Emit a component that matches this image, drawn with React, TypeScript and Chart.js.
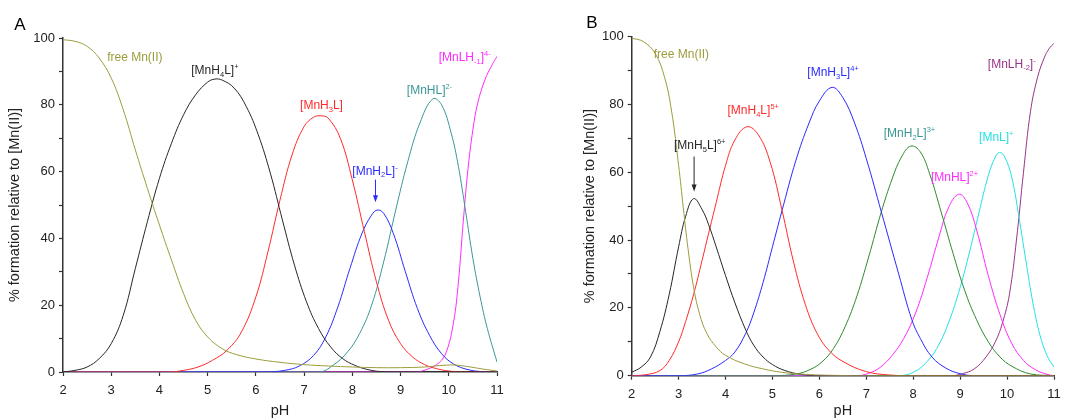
import React, { useEffect, useRef } from "react";
import { Chart, registerables } from "chart.js";

Chart.register(...registerables);
Chart.defaults.font.family = "'Liberation Sans', Arial, sans-serif";

// ---------------- Panel A data ----------------
const pHA_free = [2, 2.25, 2.5, 2.75, 3.0, 3.25, 3.5, 3.75, 4.0, 4.25, 4.5, 4.75, 5.0, 5.3, 5.6, 6, 6.5, 7, 7.5, 8, 8.5, 9, 9.5, 9.8, 10.1, 10.4, 10.7, 11];
const freeMnA = [99.5, 99, 97.5, 94, 88, 78.5, 66.5, 55, 44, 33.5, 23.5, 15.5, 10.5, 7, 5.2, 3.9, 2.9, 2.2, 1.8, 1.5, 1.3, 1.3, 1.5, 1.9, 2.1, 1.6, 0.9, 0.3];

const pHA_H4L = [2, 2.25, 2.5, 2.75, 3.0, 3.25, 3.5, 3.75, 4.0, 4.25, 4.5, 4.75, 5.0, 5.15, 5.3, 5.55, 5.8, 6.05, 6.3, 6.55, 6.8, 7.05, 7.3, 7.55, 7.8, 8.05, 8.3, 8.6, 9, 11];
const MnH4L_A = [0, 0.5, 1.5, 4, 8.5, 17, 31, 45, 58, 68.5, 77, 83, 86.8, 87.7, 87.4, 85, 79.5, 71, 59.5, 45.5, 32, 21, 13, 7.5, 4, 2, 0.8, 0.1, 0, 0];

const pHA_H3L = [2, 4.2, 4.5, 4.8, 5.1, 5.4, 5.7, 6.0, 6.25, 6.5, 6.75, 7.0, 7.2, 7.35, 7.5, 7.75, 8.0, 8.25, 8.5, 8.75, 9.0, 9.25, 9.5, 9.75, 10, 10.3, 11];
const MnH3L_A = [0, 0, 0.5, 1.5, 3.5, 6.5, 12, 22.5, 36, 51.5, 65, 73.5, 76.3, 76.7, 76, 70, 57.5, 42, 27, 15.5, 8.5, 4.5, 2.2, 1, 0.3, 0, 0];

const pHA_H2L = [2, 6.2, 6.6, 6.9, 7.2, 7.45, 7.7, 7.95, 8.2, 8.4, 8.52, 8.65, 8.85, 9.1, 9.35, 9.6, 9.85, 10.1, 10.4, 10.7, 11];
const MnH2L_A = [0, 0, 0.5, 1.8, 5, 10.5, 19.5, 31, 41.5, 47, 48.5, 47.5, 41.5, 30, 19, 11, 5.5, 2.4, 0.7, 0.1, 0];

const pHA_HL = [2, 7.3, 7.6, 7.9, 8.15, 8.4, 8.65, 8.9, 9.15, 9.4, 9.67, 9.85, 10.05, 10.2, 10.35, 10.5, 10.65, 10.8, 11];
const MnHL_A = [0, 0, 2, 6, 11.5, 20, 33, 48.5, 63, 74.5, 81.8, 80, 71.5, 61.5, 48, 34, 22.5, 13, 3];

const pHA_LH1 = [2, 9.3, 9.55, 9.8, 9.95, 10.1, 10.2, 10.3, 10.4, 10.5, 10.6, 10.75, 10.9, 11];
const MnLH1_A = [0, 0, 0.8, 2.8, 6, 15, 27, 45, 61, 72.5, 80.5, 87.5, 92, 94.5];

// ---------------- Panel B data ----------------
const pHB_free = [2, 2.25, 2.5, 2.7, 2.85, 3.0, 3.1, 3.2, 3.32, 3.45, 3.6, 3.8, 4.0, 4.4, 4.8, 5.2, 5.6, 6, 7, 11];
const freeMnB = [99.5, 98.5, 95, 88, 78, 62, 49.5, 37.5, 26, 18, 12.5, 8.5, 6, 3.5, 2, 1, 0.5, 0.2, 0, 0];

const pHB_H5L = [2, 2.2, 2.4, 2.6, 2.8, 3.0, 3.15, 3.32, 3.5, 3.64, 3.8, 4.0, 4.2, 4.43, 4.6, 4.8, 5.0, 5.25, 5.6, 6, 11];
const MnH5L_B = [1, 2.5, 5.5, 13, 24, 38, 47, 52.2, 49, 44.5, 38, 29.5, 21.5, 13.5, 9, 5.5, 3.3, 1.6, 0.4, 0, 0];

const pHB_H4L = [2, 2.3, 2.6, 2.8, 3.0, 3.15, 3.32, 3.5, 3.64, 3.8, 4.0, 4.2, 4.46, 4.7, 4.95, 5.2, 5.45, 5.7, 5.95, 6.2, 6.5, 7.0, 7.5, 8, 11];
const MnH4L_B = [0, 0.3, 1.5, 4.5, 10, 16, 24, 34, 42, 51, 62, 69.5, 73.4, 71, 63, 49, 33.5, 21, 12.5, 7.5, 4.2, 1.2, 0.2, 0, 0];

const pHB_H3L = [2, 3.0, 3.4, 3.7, 4.0, 4.2, 4.43, 4.6, 4.8, 5.0, 5.2, 5.5, 5.78, 6.0, 6.27, 6.5, 6.75, 7.0, 7.32, 7.69, 7.97, 8.15, 8.4, 8.7, 9.0, 9.3, 11];
const MnH3L_B = [0, 0, 0.5, 2, 4.5, 7, 12.5, 18.5, 27.5, 38, 48.5, 63.5, 74.5, 81, 85, 82, 74.5, 64, 48.3, 30, 16.5, 11, 5.5, 2.2, 0.6, 0, 0];

const pHB_H2L = [2, 5.0, 5.5, 5.8, 6.05, 6.3, 6.55, 6.8, 7.05, 7.32, 7.55, 7.75, 7.95, 8.15, 8.35, 8.6, 8.85, 9.1, 9.35, 9.6, 9.85, 10.1, 10.5, 11];
const MnH2L_B = [0, 0, 0.5, 1.8, 4, 8, 14.5, 23.5, 35, 48.3, 58, 64.5, 67.7, 66, 59.5, 48, 36, 25, 16.5, 10, 5.5, 2.8, 0.5, 0];

const pHB_HL = [2, 6.8, 7.05, 7.3, 7.55, 7.8, 8.05, 8.3, 8.55, 8.75, 8.97, 9.15, 9.35, 9.6, 9.85, 10.1, 10.35, 10.6, 10.85, 11];
const MnHL_B = [0, 0, 0.7, 2.5, 6, 11, 18.5, 29, 41, 49.5, 53.5, 51, 43, 29.5, 18, 9.5, 4.5, 1.8, 0.4, 0];

const pHB_L = [2, 7.7, 8.0, 8.25, 8.5, 8.75, 9.0, 9.2, 9.4, 9.6, 9.75, 9.84, 9.95, 10.1, 10.25, 10.4, 10.55, 10.7, 10.85, 11];
const MnL_B = [0, 0, 1, 3.5, 8, 15.5, 26, 36.5, 48, 59, 64.5, 65.8, 64.5, 58.5, 47, 34, 21.5, 12, 6, 2.5];

const pHB_LH2 = [2, 8.8, 9.05, 9.3, 9.55, 9.75, 9.9, 10.05, 10.2, 10.35, 10.5, 10.65, 10.8, 10.9, 11];
const MnLH2_B = [0, 0, 0.6, 2, 5.5, 10, 15.5, 24, 40, 60, 78, 88, 94, 96.5, 98];

// tick values
const xTicks = [2, 3, 4, 5, 6, 7, 8, 9, 10, 11];
const yLabelled = [0, 20, 40, 60, 80, 100];

// colours
const OLIVE = "#9c9c3c";
const BLACK = "#262626";
const RED = "#ff2a2a";
const BLUE = "#2a2aff";
const TEAL = "#3a9797";
const MAGENTA = "#ff2aff";
const GREEN = "#2f8a2f";
const CYAN = "#22e2e2";
const PURPLE = "#993389";

type Series = { x: number[]; y: number[]; color: string };
type Ann = { x: number; y: number; text: string; color: string; arrow?: [number, number, number] };

const seriesA: Series[] = [
  { x: pHA_free, y: freeMnA, color: OLIVE },
  { x: pHA_H4L, y: MnH4L_A, color: BLACK },
  { x: pHA_H3L, y: MnH3L_A, color: RED },
  { x: pHA_H2L, y: MnH2L_A, color: BLUE },
  { x: pHA_HL, y: MnHL_A, color: TEAL },
  { x: pHA_LH1, y: MnLH1_A, color: MAGENTA },
];

const seriesB: Series[] = [
  { x: pHB_free, y: freeMnB, color: OLIVE },
  { x: pHB_H5L, y: MnH5L_B, color: BLACK },
  { x: pHB_H4L, y: MnH4L_B, color: RED },
  { x: pHB_H3L, y: MnH3L_B, color: BLUE },
  { x: pHB_H2L, y: MnH2L_B, color: GREEN },
  { x: pHB_HL, y: MnHL_B, color: MAGENTA },
  { x: pHB_L, y: MnL_B, color: CYAN },
  { x: pHB_LH2, y: MnLH2_B, color: PURPLE },
];

const labelsA: Ann[] = [
  { x: 3.49, y: 94.4, text: "free Mn(II)", color: OLIVE },
  { x: 5.15, y: 90.4, text: "[MnH_{4}L]^{+}", color: BLACK },
  { x: 7.36, y: 80, text: "[MnH_{3}L]", color: RED },
  { x: 8.47, y: 60.4, text: "[MnH_{2}L]^{-}", color: BLUE, arrow: [8.48, 57.6, 50.8] },
  { x: 9.6, y: 84.5, text: "[MnHL]^{2-}", color: TEAL },
  { x: 10.33, y: 94.4, text: "[MnLH_{-1}]^{4-}", color: MAGENTA },
];

const labelsB: Ann[] = [
  { x: 3.06, y: 95, text: "free Mn(II)", color: OLIVE },
  { x: 3.45, y: 68, text: "[MnH_{5}L]^{6+}", color: BLACK, arrow: [3.33, 64.6, 54.3] },
  { x: 4.59, y: 78.3, text: "[MnH_{4}L]^{5+}", color: RED },
  { x: 6.29, y: 89.6, text: "[MnH_{3}L]^{4+}", color: BLUE },
  { x: 7.92, y: 71.5, text: "[MnH_{2}L]^{3+}", color: TEAL },
  { x: 8.88, y: 58.7, text: "[MnHL]^{2+}", color: MAGENTA },
  { x: 9.77, y: 70.5, text: "[MnL]^{+}", color: CYAN },
  { x: 10.1, y: 92, text: "[MnLH_{-2}]^{-}", color: PURPLE },
];

function parseRich(s: string) {
  const segs: { t: string; k: number }[] = [];
  let i = 0;
  let buf = "";
  while (i < s.length) {
    const c = s[i];
    if ((c === "_" || c === "^") && s[i + 1] === "{") {
      if (buf) {
        segs.push({ t: buf, k: 0 });
        buf = "";
      }
      const end = s.indexOf("}", i + 2);
      segs.push({ t: s.slice(i + 2, end), k: c === "_" ? 1 : 2 });
      i = end + 1;
    } else {
      buf += c;
      i++;
    }
  }
  if (buf) segs.push({ t: buf, k: 0 });
  return segs;
}

const FAM = "'Liberation Sans', Arial, sans-serif";

function makeAnnPlugin(anns: Ann[], letter: string, letterPos: [number, number]) {
  return {
    id: "annotations_" + letter,
    afterDatasetsDraw(chart: any) {
      const ctx = chart.ctx as CanvasRenderingContext2D;
      const xs = chart.scales.x;
      const ys = chart.scales.y;
      ctx.save();
      const fs = 12;
      const ss = 7.5;
      for (const a of anns) {
        const px = xs.getPixelForValue(a.x);
        const py = ys.getPixelForValue(a.y);
        const segs = parseRich(a.text);
        let w = 0;
        const widths: number[] = [];
        for (const s of segs) {
          ctx.font = `${s.k === 0 ? fs : ss}px ${FAM}`;
          const m = ctx.measureText(s.t).width;
          widths.push(m);
          w += m;
        }
        let cx = px - w / 2;
        const base = py + fs * 0.36;
        ctx.fillStyle = a.color;
        ctx.textBaseline = "alphabetic";
        ctx.textAlign = "left";
        segs.forEach((s, i) => {
          ctx.font = `${s.k === 0 ? fs : ss}px ${FAM}`;
          const yy = s.k === 0 ? base : s.k === 1 ? base + 2.5 : base - 5;
          ctx.fillText(s.t, cx, yy);
          cx += widths[i];
        });
        if (a.arrow) {
          const ax = xs.getPixelForValue(a.arrow[0]);
          const y1 = ys.getPixelForValue(a.arrow[1]);
          const y2 = ys.getPixelForValue(a.arrow[2]);
          ctx.strokeStyle = a.color;
          ctx.lineWidth = 1;
          ctx.beginPath();
          ctx.moveTo(ax, y1);
          ctx.lineTo(ax, y2 - 5);
          ctx.stroke();
          ctx.beginPath();
          ctx.moveTo(ax - 2.5, y2 - 7);
          ctx.lineTo(ax + 2.5, y2 - 7);
          ctx.lineTo(ax, y2);
          ctx.closePath();
          ctx.fill();
        }
      }
      ctx.fillStyle = "#000";
      ctx.font = `17px ${FAM}`;
      ctx.textAlign = "center";
      ctx.textBaseline = "middle";
      ctx.fillText(letter, letterPos[0], letterPos[1]);
      ctx.restore();
    },
  };
}

type PanelLayout = {
  padLeft: number;
  padRight: number;
  padTop: number;
  yWidth: number;
  xHeight: number;
  yTitlePad: number;
};

function buildConfig(series: Series[], anns: Ann[], letter: string, letterPos: [number, number], lay: PanelLayout): any {
  return {
    type: "line",
    data: {
      datasets: series.map((s) => ({
        data: s.x.map((x, i) => ({ x, y: s.y[i] })),
        borderColor: s.color,
        backgroundColor: s.color,
        borderWidth: 1,
        pointRadius: 0,
        fill: false,
        tension: 0.4,
      })),
    },
    options: {
      responsive: false,
      animation: false,
      events: [],
      layout: { padding: { left: lay.padLeft, right: lay.padRight, top: lay.padTop, bottom: 0 } },
      plugins: { legend: { display: false }, tooltip: { enabled: false } },
      scales: {
        x: {
          type: "linear",
          min: 2,
          max: 11,
          afterBuildTicks: (scale: any) => {
            scale.ticks = xTicks.map((v) => ({ value: v }));
          },
          ticks: { color: "#222", font: { size: 13 }, padding: 7, maxRotation: 0, autoSkip: false },
          grid: { drawOnChartArea: false, tickLength: 4, tickColor: "#333", tickWidth: 1.2 },
          border: { color: "#333", width: 1.5 },
          title: { display: true, text: "pH", color: "#222", font: { size: 14.5 }, padding: { top: 0, bottom: 0 } },
          afterFit: (scale: any) => {
            scale.height = lay.xHeight;
          },
        },
        y: {
          min: 0,
          max: 100,
          ticks: {
            stepSize: 10,
            color: "#222",
            font: { size: 13 },
            padding: 4,
            callback: (v: number) => (yLabelled.includes(v) ? String(v) : ""),
          },
          grid: {
            drawOnChartArea: false,
            tickLength: 4,
            tickColor: "#333",
            tickWidth: 1.2,
          },
          border: { color: "#333", width: 1.5 },
          title: {
            display: true,
            text: "% formation relative to [Mn(II)]",
            color: "#222",
            font: { size: 14.5 },
            padding: { top: lay.yTitlePad, bottom: 0 },
          },
          afterFit: (scale: any) => {
            scale.width = lay.yWidth;
          },
        },
      },
    },
    plugins: [makeAnnPlugin(anns, letter, letterPos)],
  };
}

export default function App() {
  const refA = useRef<HTMLCanvasElement>(null);
  const refB = useRef<HTMLCanvasElement>(null);
  useEffect(() => {
    const a = new Chart(
      refA.current!,
      buildConfig(seriesA, labelsA, "A", [20, 25], {
        padLeft: 0,
        padRight: 43,
        padTop: 38,
        yWidth: 63,
        xHeight: 48,
        yTitlePad: 6,
      })
    );
    const b = new Chart(
      refB.current!,
      buildConfig(seriesB, labelsB, "B", [52, 23], {
        padLeft: 37,
        padRight: 29,
        padTop: 36.5,
        yWidth: 54.7,
        xHeight: 44.3,
        yTitlePad: 4,
      })
    );
    return () => {
      a.destroy();
      b.destroy();
    };
  }, []);
  return (
    <div style={{ position: "absolute", left: 0, top: 0, width: 1083, height: 420, background: "#fff", overflow: "hidden" }}>
      <canvas ref={refA} width={540} height={420} style={{ position: "absolute", left: 0, top: 0, width: 540, height: 420, display: "block" }} />
      <canvas ref={refB} width={543} height={420} style={{ position: "absolute", left: 540, top: 0, width: 543, height: 420, display: "block" }} />
    </div>
  );
}
